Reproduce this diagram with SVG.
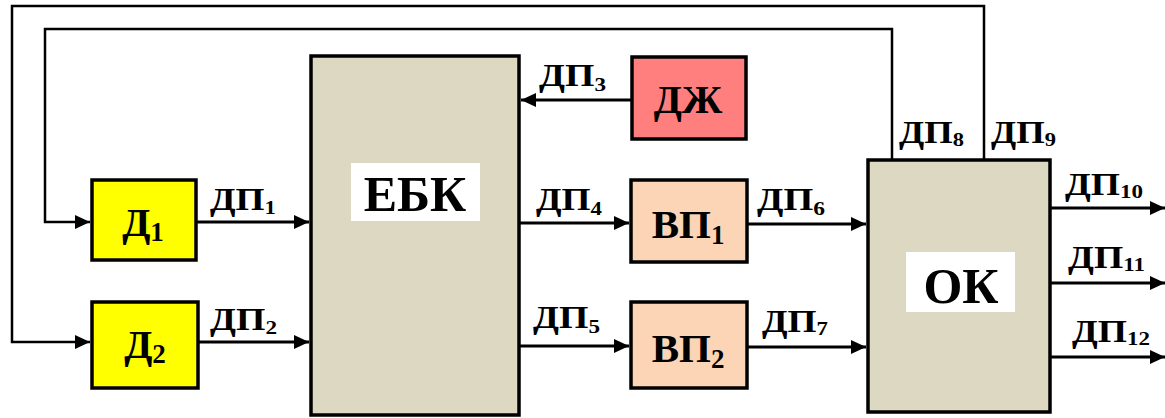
<svg xmlns="http://www.w3.org/2000/svg" width="1165" height="418" viewBox="0 0 1165 418">
<style>
.box{stroke:#000;stroke-width:3.5}
.big{fill:#DDD8C2}
.y{fill:#FFFF00}
.r{fill:#FF7F7F}
.p{fill:#FBD5B5}
.wb{fill:#fff}
text{font-family:"Liberation Serif","Times New Roman",serif;font-weight:bold;fill:#000}
.lbl{font-size:31px}
.sub{font-size:19px}
.bl{font-size:41px;text-anchor:middle}
.bsub{font-size:27px}
.bg{font-size:50px;text-anchor:middle}
.c{fill:none;stroke:#000;stroke-width:3}
.f{fill:none;stroke:#000;stroke-width:2.5}
</style>
<defs>
<marker id="ah" markerUnits="userSpaceOnUse" markerWidth="16" markerHeight="14" refX="15" refY="7" orient="auto">
<path d="M0,0 L15,7 L0,14 Z" fill="#000"/>
</marker>
</defs>
<rect width="1165" height="418" fill="#fff"/>
<g id="connectors">
<path class="f" d="M984,160 V6 H12 V342 H90" marker-end="url(#ah)"/>
<path class="f" d="M892,160 V29 H45 V222 H90" marker-end="url(#ah)"/>
<path class="c" d="M196,222 H309" marker-end="url(#ah)"/>
<path class="c" d="M198,342 H309" marker-end="url(#ah)"/>
<path class="c" d="M632,100 H521" marker-end="url(#ah)"/>
<path class="c" d="M519,223 H629" marker-end="url(#ah)"/>
<path class="c" d="M519,346 H629" marker-end="url(#ah)"/>
<path class="c" d="M747,224 H866" marker-end="url(#ah)"/>
<path class="c" d="M747,347 H866" marker-end="url(#ah)"/>
<path class="c" d="M1050,208 H1165" marker-end="url(#ah)"/>
<path class="c" d="M1050,283 H1165" marker-end="url(#ah)"/>
<path class="c" d="M1050,357 H1165" marker-end="url(#ah)"/>
<text class="lbl" x="210" y="210" textLength="66" lengthAdjust="spacingAndGlyphs">ДП<tspan class="sub" dy="4">1</tspan></text>
<text class="lbl" x="210" y="330" textLength="67" lengthAdjust="spacingAndGlyphs">ДП<tspan class="sub" dy="4">2</tspan></text>
<text class="lbl" x="539" y="86" textLength="67" lengthAdjust="spacingAndGlyphs">ДП<tspan class="sub" dy="5">3</tspan></text>
<text class="lbl" x="536" y="210" textLength="66" lengthAdjust="spacingAndGlyphs">ДП<tspan class="sub" dy="5">4</tspan></text>
<text class="lbl" x="533" y="328" textLength="67" lengthAdjust="spacingAndGlyphs">ДП<tspan class="sub" dy="5">5</tspan></text>
<text class="lbl" x="757" y="210" textLength="68" lengthAdjust="spacingAndGlyphs">ДП<tspan class="sub" dy="5">6</tspan></text>
<text class="lbl" x="762" y="332" textLength="66" lengthAdjust="spacingAndGlyphs">ДП<tspan class="sub" dy="3">7</tspan></text>
<text class="lbl" x="899" y="143" textLength="65" lengthAdjust="spacingAndGlyphs">ДП<tspan class="sub" dy="3">8</tspan></text>
<text class="lbl" x="991" y="143" textLength="65" lengthAdjust="spacingAndGlyphs">ДП<tspan class="sub" dy="3">9</tspan></text>
<text class="lbl" x="1065" y="195" textLength="78" lengthAdjust="spacingAndGlyphs">ДП<tspan class="sub" dy="3">10</tspan></text>
<text class="lbl" x="1068" y="268" textLength="77" lengthAdjust="spacingAndGlyphs">ДП<tspan class="sub" dy="3">11</tspan></text>
<text class="lbl" x="1072" y="342" textLength="78" lengthAdjust="spacingAndGlyphs">ДП<tspan class="sub" dy="3">12</tspan></text>
</g>
<g id="node-d1">
<rect class="box y" x="92" y="180" width="104" height="80"/>
<text class="bl" x="143" y="236">Д<tspan class="bsub" dy="5">1</tspan></text>
</g>
<g id="node-d2">
<rect class="box y" x="92" y="302" width="106" height="86"/>
<text class="bl" x="145" y="358">Д<tspan class="bsub" dy="5">2</tspan></text>
</g>
<g id="node-ebk">
<rect class="box big" x="311" y="56" width="208" height="359"/>
<rect class="wb" x="351" y="163" width="129" height="58"/>
<text class="bg" x="415" y="211">ЕБК</text>
</g>
<g id="node-dzh">
<rect class="box r" x="632" y="57" width="114" height="82"/>
<text class="bl" x="688" y="113">ДЖ</text>
</g>
<g id="node-vp1">
<rect class="box p" x="631" y="180" width="116" height="82"/>
<text class="bl" x="688" y="238">ВП<tspan class="bsub" dy="6">1</tspan></text>
</g>
<g id="node-vp2">
<rect class="box p" x="631" y="302" width="116" height="86"/>
<text class="bl" x="688" y="362">ВП<tspan class="bsub" dy="6">2</tspan></text>
</g>
<g id="node-ok">
<rect class="box big" x="868" y="160" width="182" height="252"/>
<rect class="wb" x="906" y="252" width="109" height="60"/>
<text class="bg" x="961" y="303">ОК</text>
</g>
</svg>
